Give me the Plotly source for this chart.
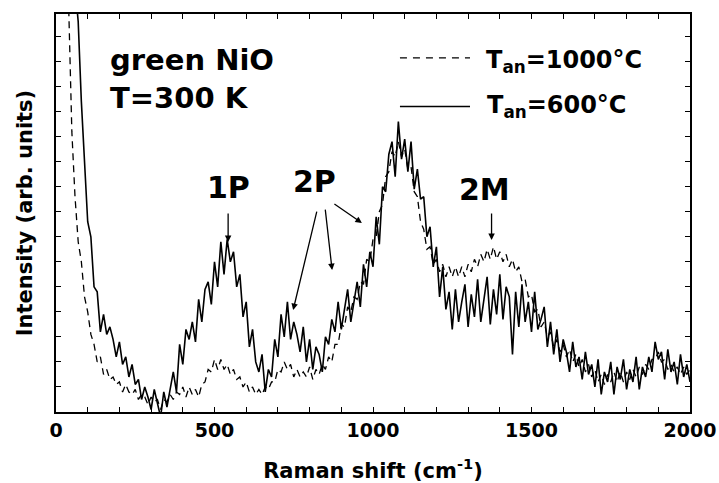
import plotly.graph_objects as go

# Raman shift grids (cm^-1)
x_600 = list(range(60, 2001, 10))
x_1000 = list(range(30, 2001, 10))

# Intensity (arb. units), T_an = 600 C (solid)
y_600 = [
    17.0, 15.6, 12.4, 10.0, 7.6, 7.0, 5.0, 4.8, 3.2, 3.9,
    3.1, 3.4, 2.9, 2.2, 2.8, 1.9, 2.2, 1.4, 1.9, 1.1,
    1.3, 0.5, 1.0, 0.6, 0.1, 0.9, 0.3, -0.2, 0.8, 0.2,
    0.9, 1.6, 0.8, 2.7, 1.9, 3.3, 2.9, 3.6, 2.8, 4.5,
    3.6, 4.9, 5.2, 4.3, 6.0, 5.0, 6.8, 5.5, 6.9, 6.0,
    6.4, 5.0, 5.5, 3.8, 4.4, 2.6, 3.3, 2.0, 1.6, 2.3,
    0.8, 1.7, 1.4, 2.9, 2.2, 3.9, 3.0, 4.4, 2.9, 3.6,
    3.1, 2.4, 3.4, 2.0, 2.9, 1.7, 2.6, 2.3, 1.6, 3.0,
    2.7, 3.7, 3.2, 4.4, 3.3, 4.2, 4.9, 3.6, 4.5, 5.2,
    4.2, 5.9, 5.0, 6.4, 5.8, 7.8, 6.7, 9.0, 8.8, 10.3,
    10.8, 9.4, 11.6, 10.1, 10.9, 9.6, 10.8, 8.9, 9.7, 8.5,
    8.6, 7.0, 7.4, 5.8, 6.6, 4.6, 5.8, 4.1, 4.8, 3.3,
    4.9, 3.6, 4.4, 5.1, 3.4, 4.7, 3.8, 5.3, 3.6, 4.6,
    5.4, 3.5, 4.9, 3.9, 5.5, 3.7, 5.0, 4.6, 2.3, 4.8,
    3.4, 5.1, 3.6, 4.4, 3.2, 4.8, 3.3, 3.7, 4.2, 2.6,
    3.6, 2.3, 3.3, 2.0, 2.9, 2.4, 1.6, 2.8, 1.8, 2.2,
    1.3, 2.4, 1.5, 1.9, 1.0, 2.1, 0.7, 1.6, 1.2, 2.0,
    0.7, 1.8, 1.3, 2.1, 0.9, 1.7, 1.2, 2.2, 0.9, 1.8,
    1.4, 2.2, 1.6, 2.8, 2.1, 2.4, 1.3, 2.5, 1.6, 2.0,
    1.1, 2.3, 1.4, 1.9, 1.2,
]

# Intensity (arb. units), T_an = 1000 C (dashed)
y_1000 = [
    18.0, 16.2, 11.2, 8.6, 6.8, 6.0, 4.6, 4.0, 3.1, 2.7,
    2.0, 2.2, 1.5, 1.7, 1.3, 1.4, 1.1, 1.2, 0.8, 1.1,
    0.8, 0.7, 0.9, 0.5, 0.7, 0.6, 0.3, 0.6, 0.4, 0.5,
    0.1, 0.5, 0.4, 0.7, 0.5, 0.8, 0.7, 1.0, 0.6, 1.0,
    0.7, 0.9, 0.6, 1.1, 1.2, 1.7, 1.6, 2.1, 1.7, 2.1,
    1.7, 1.9, 1.5, 1.7, 1.3, 1.4, 1.0, 1.2, 0.8, 1.0,
    0.7, 0.9, 0.7, 1.0, 0.9, 1.2, 1.2, 1.7, 1.6, 2.0,
    1.7, 1.9, 1.4, 1.7, 1.4, 1.6, 1.4, 1.8, 1.3, 1.7,
    1.5, 1.9, 1.7, 2.2, 2.0, 2.7, 2.7, 3.5, 3.4, 4.2,
    4.0, 4.6, 4.5, 5.2, 5.1, 6.1, 6.0, 6.9, 7.0, 8.0,
    8.3, 9.4, 9.6, 10.4, 10.2, 10.8, 10.2, 10.5, 9.7, 9.8,
    8.8, 8.6, 7.6, 7.3, 6.5, 6.6, 5.9, 6.1, 5.6, 5.9,
    5.4, 5.8, 5.4, 5.8, 5.4, 5.8, 5.4, 5.9, 5.6, 6.1,
    5.8, 6.3, 6.0, 6.5, 6.1, 6.6, 6.1, 6.4, 6.0, 6.3,
    5.8, 6.1, 5.6, 5.8, 5.2, 5.3, 4.6, 4.7, 4.0, 4.1,
    3.4, 3.6, 3.0, 3.2, 2.6, 2.9, 2.4, 2.7, 2.2, 2.5,
    2.0, 2.3, 1.8, 2.1, 1.6, 1.9, 1.4, 1.7, 1.2, 1.5,
    1.1, 1.5, 1.2, 1.6, 1.2, 1.6, 1.2, 1.6, 1.3, 1.7,
    1.4, 1.8, 1.5, 1.9, 1.7, 2.1, 2.1, 2.4, 2.0, 2.1,
    1.7, 1.9, 1.6, 1.8, 1.5, 1.8, 1.5, 1.7,
]

x_tickvals = list(range(0, 2001, 100))
x_ticktext = ["0", "", "", "", "", "500", "", "", "", "", "1000",
              "", "", "", "", "1500", "", "", "", "", "2000"]
y_tickvals = list(range(1, 16))

FONT = "DejaVu Sans"

fig = go.Figure()
fig.add_trace(go.Scatter(x=x_1000, y=y_1000, mode="lines",
                         line=dict(color="black", width=1.3, dash="7px,5px"),
                         name="T<sub>an</sub>=1000°C", showlegend=False))
fig.add_trace(go.Scatter(x=x_600, y=y_600, mode="lines",
                         line=dict(color="black", width=1.6),
                         name="T<sub>an</sub>=600°C", showlegend=False))

# legend line samples
fig.add_shape(type="line", x0=1085, x1=1306, y0=14.15, y1=14.15,
              line=dict(color="black", width=1.2, dash="7px,6px"))
fig.add_shape(type="line", x0=1085, x1=1306, y0=12.2, y1=12.2,
              line=dict(color="black", width=1.5))

def txt(x, y, s, size, xanchor="center"):
    fig.add_annotation(x=x, y=y, text=s, showarrow=False, xanchor=xanchor,
                       yanchor="middle",
                       font=dict(family=FONT, size=size, color="black", weight="bold"))

txt(165, 14.05, "green NiO", 29, "left")
txt(165, 12.53, "T=300 K", 29, "left")
txt(1350, 14.0, "T<sub>an</sub>=1000°C", 24, "left")
txt(1353, 12.2, "T<sub>an</sub>=600°C", 24, "left")
txt(543, 8.95, "1P", 30)
txt(815, 9.2, "2P", 30)
txt(1353, 8.9, "2M", 30)

def arrow(x, y, ax, ay):
    fig.add_annotation(x=x, y=y, ax=ax, ay=ay, text="", showarrow=True,
                       arrowhead=2, arrowsize=1, arrowwidth=1.3, arrowcolor="black")

arrow(543, 6.79, 0, -30)
arrow(1374, 6.87, 0, -28)
arrow(748, 4.07, 24, -100)
arrow(871, 5.67, -7, -62)
arrow(965, 7.55, -29, -20)

fig.update_layout(
    width=719, height=483,
    margin=dict(l=56, r=29, t=14, b=71, autoexpand=False),
    paper_bgcolor="white", plot_bgcolor="white",
    font=dict(family=FONT, color="black", weight="bold"),
)
fig.update_xaxes(range=[0, 2000], tickvals=x_tickvals, ticktext=x_ticktext,
                 ticks="inside", ticklen=5, tickwidth=1.3, tickcolor="black",
                 showline=True, linewidth=2, linecolor="black", mirror="ticks",
                 showgrid=False, zeroline=False, automargin=False,
                 tickfont=dict(family=FONT, size=19, color="black", weight="bold"),
                 title=dict(text="Raman shift (cm<sup>-1</sup>)", standoff=24,
                            font=dict(family=FONT, size=21, color="black", weight="bold")))
fig.update_yaxes(range=[0, 15.9], tickvals=y_tickvals, showticklabels=False,
                 ticks="inside", ticklen=5, tickwidth=1.3, tickcolor="black",
                 showline=True, linewidth=2, linecolor="black", mirror="ticks",
                 showgrid=False, zeroline=False, automargin=False,
                 title=dict(text="Intensity (arb. units)", standoff=16,
                            font=dict(family=FONT, size=21, color="black", weight="bold")))

fig.write_html("out.html", config={"displayModeBar": False},
               post_script="document.body.style.margin='0px';document.body.style.overflow='hidden';")
